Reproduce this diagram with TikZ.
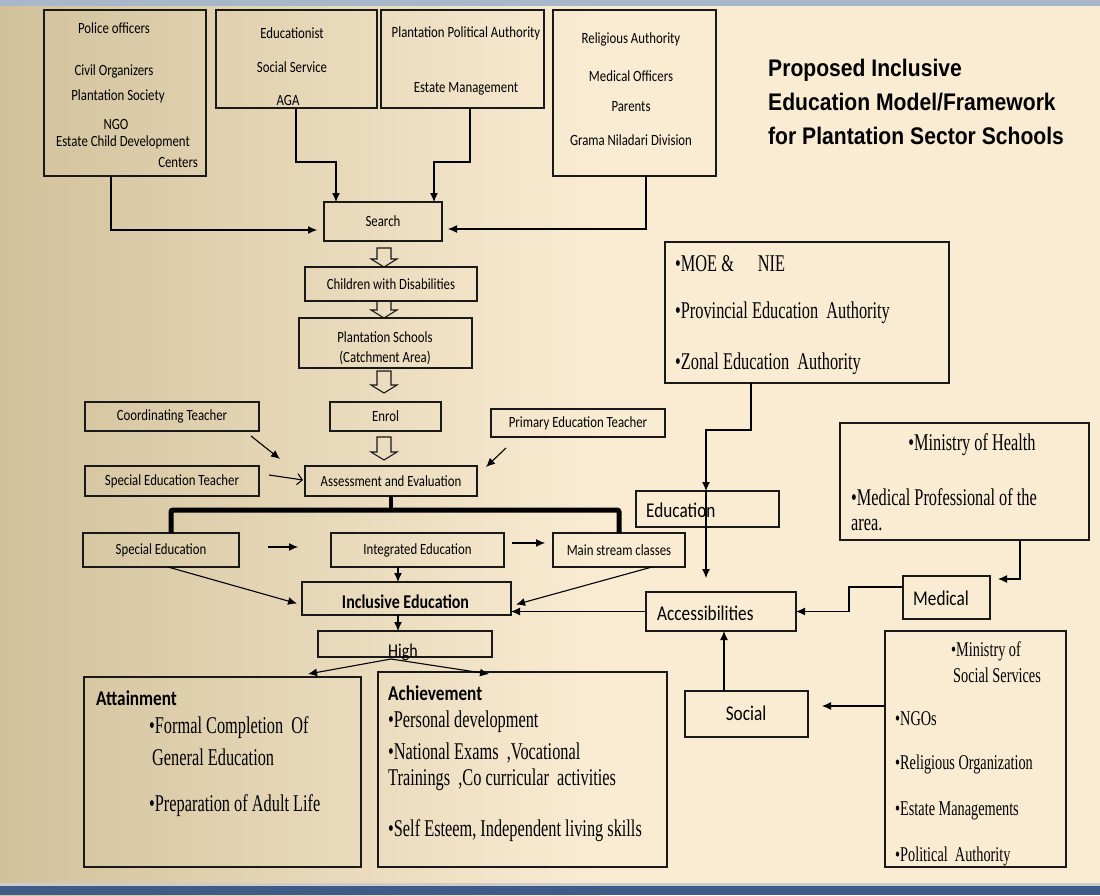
\documentclass[tikz,border=0pt]{standalone}
\usepackage{fontspec}
\usetikzlibrary{shapes.geometric,arrows.meta,fit,positioning,calc}
\newfontfamily\calfont{Carlito}[FakeStretch=0.82]
\newfontfamily\romfont{Liberation Serif}[FakeStretch=0.68]
\newfontfamily\headfont{Liberation Sans}[FakeStretch=0.88]
\definecolor{tan}{RGB}{209,193,155}
\definecolor{cream}{RGB}{250,236,211}
\definecolor{slide}{RGB}{62,92,135}
\definecolor{stripe}{RGB}{169,183,203}
\tikzset
{
	box/.style    = {rectangle, draw=black!90, line width=1.3pt, anchor=north west, inner sep=0pt, outer sep=0pt},
	tiny/.style   = {font=\calfont\fontsize{15.6}{17}\selectfont, text=black, inner sep=0pt},
	big/.style    = {font=\calfont\fontsize{21}{24}\selectfont, inner sep=0pt, anchor=west},
	rom/.style    = {font=\romfont\fontsize{24}{26}\selectfont, inner sep=0pt, anchor=west},
	arr/.style    = {-{Latex[length=9pt,width=8pt]}, line width=1.1pt},
	bracket/.style = {line width=5pt, rounded corners=2pt},
	hollow/.style = {line width=1.1pt, draw=black!90}
}
% open block arrow between two stacked boxes
\newcommand\hollowdown[4]{%
  \draw[hollow] let \p1=(spine |- #1.south), \p2=(spine |- #2.north) in
    (\x1-7pt,\y1-#3pt) -- (\x1+7pt,\y1-#3pt) -- (\x1+7pt,\y2+#4pt+8pt) -- (\x1+13pt,\y2+#4pt+8pt)
    -- (\x1,\y2+#4pt) -- (\x1-13pt,\y2+#4pt+8pt) -- (\x1-7pt,\y2+#4pt+8pt) -- cycle;}

\begin{document}
\begin{tikzpicture}[x=1pt, y=-1pt]
\useasboundingbox (0,0) rectangle (1100,895);
% slide background
\fill[left color=tan, right color=cream] (0,0) rectangle (600,895);
\fill[cream] (599,0) rectangle (1100,895);
\fill[stripe] (0,0) rectangle (1100,6);
\fill[black!20] (0,883) rectangle (1100,886);
\fill[slide] (0,886) rectangle (1100,895);

% stakeholder boxes
\node[box, minimum width=162pt, minimum height=166pt] (police) at (44,10) {};
\node[box, minimum width=161pt, minimum height=98pt] (eduist) at (216,10) {};
\node[box, minimum width=163pt, minimum height=98pt] (plantpol) at (381,10) {};
\node[box, minimum width=163pt, minimum height=166pt] (relig) at (553,10) {};

\node[tiny] (police1) at (114,28) {Police officers};
\node[tiny] (police2) at (114,71) {Civil Organizers};
\node[tiny] (police3) at (118,96) {Plantation Society};
\node[tiny] (police4) at (116,124) {NGO};
\node[tiny] (police5) at (123,142) {Estate Child Development};
\node[tiny, anchor=east] (police6) at (198,162) {Centers};
\node[tiny] (eduist1) at (292,33) {Educationist};
\node[tiny] (eduist2) at (292,67) {Social Service};
\node[tiny] (eduist3) at (288,100) {AGA};
\node[tiny] (plantpol1) at (466,33) {Plantation Political Authority};
\node[tiny] (plantpol2) at (466,89) {Estate Management};
\node[tiny] (relig1) at (631,39) {Religious Authority};
\node[tiny] (relig2) at (631,76) {Medical Officers};
\node[tiny] (relig3) at (631,107) {Parents};
\node[tiny] (relig4) at (631,140) {Grama Niladari Division};

\node[anchor=west, inner sep=0pt, align=left, font=\headfont\bfseries\fontsize{24}{34}\selectfont] (title) at (768,102)
  {Proposed Inclusive\\Education Model/Framework\\for Plantation Sector Schools};

% main flow
\node[box, minimum width=118pt, minimum height=39pt] (search) at (324,202) {};
\node[tiny] at (search.center) {Search};
\node[box, minimum width=172pt, minimum height=34pt] (kids) at (305,267) {};
\node[tiny] at (kids.center) {Children with Disabilities};
\node[box, minimum width=173pt, minimum height=50pt] (schools) at (299,318) {};
\node[tiny] (schools1) at (385,337) {Plantation Schools};
\node[tiny] (schools2) at (385,358) {(Catchment Area)};
\node[box, minimum width=111pt, minimum height=29pt] (enrol) at (330,402) {};
\node[tiny] at (enrol.center) {Enrol};
\node[box, minimum width=174pt, minimum height=29pt] (coord) at (85,402) {};
\node[tiny] at (coord.center) {Coordinating Teacher};
\node[box, minimum width=174pt, minimum height=28pt] (primary) at (491,409) {};
\node[tiny] at (primary.center) {Primary Education Teacher};
\node[box, minimum width=174pt, minimum height=30pt] (specteach) at (85,466) {};
\node[tiny] at (specteach.center) {Special Education Teacher};
\node[box, minimum width=172pt, minimum height=30pt] (assess) at (305,466) {};
\node[tiny] at (assess.center) {Assessment and Evaluation};

\node[box, minimum width=156pt, minimum height=34pt] (specedu) at (83,533) {};
\node[tiny] at (specedu.center) {Special Education};
\node[box, minimum width=173pt, minimum height=34pt] (integ) at (331,533) {};
\node[tiny] at (integ.center) {Integrated Education};
\node[box, minimum width=132pt, minimum height=34pt] (mainstr) at (553,533) {};
\node[tiny] at (mainstr.center) {Main stream classes};

\node[box, minimum width=209pt, minimum height=33pt] (incl) at (302,582) {};
\node[inner sep=0pt, font=\calfont\bfseries\fontsize{19.5}{22}\selectfont] at ($(incl.center)+(-1,3)$) {Inclusive Education};
\node[box, minimum width=174pt, minimum height=26pt] (high) at (318,631) {};
\node[inner sep=0pt, font=\calfont\fontsize{19.5}{22}\selectfont] (hightext) at (403,652) {High};

\node[box, minimum width=277pt, minimum height=190pt] (attain) at (84,677) {};
\node[box, minimum width=289pt, minimum height=195pt] (achieve) at (378,672) {};
\node[big, font=\calfont\bfseries\fontsize{21}{24}\selectfont] (attain0) at (96,698) {Attainment};
\node[rom] (attain1) at (149,728) {•Formal Completion\ \ Of};
\node[rom] (attain2) at (152,757) {General Education};
\node[rom] (attain3) at (149,806) {•Preparation of Adult Life};
\node[big, font=\calfont\bfseries\fontsize{21}{24}\selectfont] (achieve0) at (388,693) {Achievement};
\node[rom] (achieve1) at (388,722) {•Personal development};
\node[rom] (achieve2) at (388,753) {•National Exams\ \ ,Vocational};
\node[rom] (achieve3) at (388,780) {Trainings\ \ ,Co curricular\, activities};
\node[rom] (achieve4) at (388,831) {•Self Esteem, Independent living skills};

% support side
\node[box, minimum width=284pt, minimum height=141pt] (moe) at (665,242) {};
\node[rom] (moe1) at (675,264) {•MOE \&\quad NIE};
\node[rom] (moe2) at (675,313) {•Provincial Education\ \ Authority};
\node[rom] (moe3) at (675,364) {•Zonal Education\ \ Authority};
\node[box, minimum width=143pt, minimum height=36pt] (educ) at (636,491) {};
\node[big] at (646,510) {Education};
\node[box, minimum width=249pt, minimum height=117pt] (health) at (840,423) {};
\node[rom, anchor=center] (health1) at (972,445) {•Ministry of Health};
\node[rom] (health2) at (851,497) {•Medical Professional of the};
\node[rom] (health3) at (851,525) {area.};
\node[box, minimum width=87pt, minimum height=43pt] (medical) at (903,576) {};
\node[big] at (913,598) {Medical};
\node[box, minimum width=150pt, minimum height=39pt] (access) at (646,592) {};
\node[big] at (657,613) {Accessibilities};
\node[box, minimum width=123pt, minimum height=46pt] (social) at (685,691) {};
\node[big, anchor=center] at (746,713) {Social};
\node[box, minimum width=181pt, minimum height=236pt] (socserv) at (885,631) {};
\node[rom, font=\romfont\fontsize{21}{23}\selectfont] (socserv1) at (951,651) {•Ministry of};
\node[rom, font=\romfont\fontsize{21}{23}\selectfont] (socserv2) at (953,675) {Social Services};
\node[rom, font=\romfont\fontsize{21}{23}\selectfont] (socserv3) at (895,719) {•NGOs};
\node[rom, font=\romfont\fontsize{21}{23}\selectfont] (socserv4) at (895,764) {•Religious Organization};
\node[rom, font=\romfont\fontsize{21}{23}\selectfont] (socserv5) at (895,811) {•Estate Managements};
\node[rom, font=\romfont\fontsize{21}{23}\selectfont] (socserv6) at (895,856) {•Political\ \ Authority};

% bends
\coordinate (spine) at (384,0);
\coordinate (axis) at (398,0);
\coordinate (pdrop) at (111,230);
\coordinate (edrop) at (296,162);
\coordinate (eland) at (336,162);
\coordinate (ppdrop) at (470,162);
\coordinate (ppland) at (434,162);
\coordinate (rdrop) at (646,229);
\coordinate (bl) at (171,510);
\coordinate (br) at (619,510);
\coordinate (mbend) at (751,430);
\coordinate (mland) at (706,430);
\coordinate (hbend) at (1020,579);
\coordinate (mdbend) at (849,587);
\coordinate (sx) at (724,0);
\coordinate (sy) at (0,706);

% connectors into search
\draw[arr, shorten >=7pt] (pdrop |- police.south) -- (pdrop) -- (pdrop -| search.west);
\draw[arr] (edrop |- eduist.south) -- (edrop) -- (eland) -- (eland |- search.north);
\draw[arr] (ppdrop |- plantpol.south) -- (ppdrop) -- (ppland) -- (ppland |- search.north);
\draw[arr, shorten >=6pt] (rdrop |- relig.south) -- (rdrop) -- (rdrop -| search.east);

\hollowdown{search}{kids}{7}{0}
\hollowdown{kids}{schools}{0}{0}
\hollowdown{schools}{enrol}{3}{9}
\hollowdown{enrol}{assess}{6}{6}

\draw[arr] ($(coord.south east)+(-8,5)$) -- ($(assess.north west)+(-25,-7)$);
\draw[-{Straight Barb[length=5pt,width=11pt]}, line width=1.1pt] ($(specteach.east)+(10,-6)$) -- ($(assess.west)+(-2,-1)$);
\draw[arr] ($(primary.south west)+(15,11)$) -- ($(assess.north east)+(9,1)$);

\draw[bracket] (bl |- specedu.north) -- (bl) -- (br) -- (br |- mainstr.north);
\draw[line width=4pt] (assess.south) -- (assess.south |- bl);

\draw[arr] ($(specedu.east)+(29,-3)$) -- ($(integ.west)+(-33,-3)$);
\draw[arr] ($(integ.east)+(8,-7)$) -- ($(mainstr.west)+(-8,-7)$);
\draw[arr] ($(specedu.south)+(7,0)$) -- ($(incl.west)+(-5,5)$);
\draw[arr] (axis |- integ.south) -- (axis |- incl.north);
\draw[arr] ($(mainstr.south)+(33,0)$) -- ($(incl.east)+(5,6)$);
\draw[arr] (axis |- incl.south) -- (axis |- high.north);
\draw[arr] ($(high.south)+(-14,2)$) -- ($(attain.north east)+(-53,-3)$);
\draw[arr] ($(high.south)+(-14,2)$) -- ($(achieve.north west)+(111,2)$);

% support connectors
\draw[arr] (mbend |- moe.south) -- (mbend) -- (mland) -- (mland |- educ.north);
\draw[arr, shorten >=14pt] (mland |- educ.north) -- (mland |- access.north);
\draw[arr] (hbend |- health.south) -- (hbend) -- ($(hbend -| medical.east)+(8,0)$);
\draw[arr] (medical.west |- mdbend) -- (mdbend) |- (access.east);
\draw[arr] (access.west) -- (access.west -| incl.east);
\draw[arr] (sx |- social.north) -- (sx |- access.south);
\draw[arr, shorten >=14pt] (sy -| socserv.west) -- (sy -| social.east);
\end{tikzpicture}
\end{document}
